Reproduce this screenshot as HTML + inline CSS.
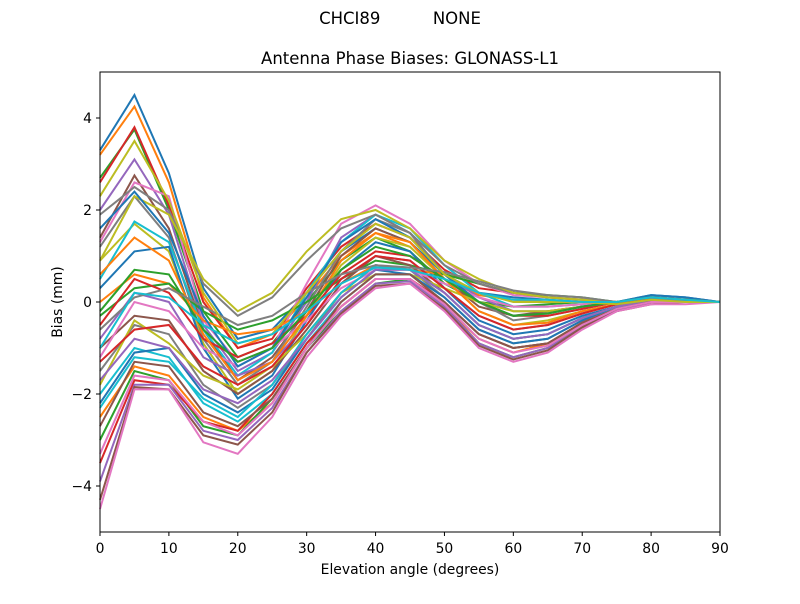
<!DOCTYPE html>
<html><head><meta charset="utf-8"><style>
body{margin:0;background:#fff;font-family:"DejaVu Sans","Liberation Sans",sans-serif}
</style></head><body>
<svg id="chart" width="800" height="600" xmlns="http://www.w3.org/2000/svg" font-family="DejaVu Sans, Liberation Sans, sans-serif">
<rect width="800" height="600" fill="#fff"/>
<text x="400" y="24" font-size="16.5" text-anchor="middle" xml:space="preserve">CHCI89          NONE</text>
<text x="410" y="64" font-size="16.5" text-anchor="middle">Antenna Phase Biases: GLONASS-L1</text>
<g id="lines"></g>
<rect x="100" y="72" width="620" height="460" fill="none" stroke="#000" stroke-width="1"/>
<g id="axes"></g>
<text x="410" y="574" font-size="13.9" text-anchor="middle">Elevation angle (degrees)</text>
<text x="62" y="302" font-size="13.9" text-anchor="middle" transform="rotate(-90 62 302)">Bias (mm)</text>
</svg>
<script>
const elevations=[0,5,10,15,20,25,30,35,40,45,50,55,60,65,70,75,80,85,90];
const xTicks=[0,10,20,30,40,50,60,70,80,90];
const yTicks=[-4,-2,0,2,4];
const s1=[3.3,4.5,2.8,0.3,-0.8,-0.6,0.2,1.1,1.6,1.3,0.6,0.2,0.1,0.05,0.0,-0.05,0.0,0.0,0];
const s2=[3.2,4.25,2.6,0.1,-1.0,-0.7,0.1,1.0,1.5,1.2,0.5,0.15,0.05,0.0,0.0,-0.05,0.0,0.0,0];
const s3=[2.7,3.75,2.0,-0.2,-1.2,-0.9,0.0,0.9,1.4,1.1,0.4,0.0,-0.1,-0.05,0.0,0.0,0.05,0.0,0];
const s4=[2.6,3.8,2.1,0.0,-1.0,-0.8,0.3,1.2,1.7,1.4,0.7,0.3,0.2,0.1,0.05,0.0,0.1,0.05,0];
const s5=[2.0,3.1,1.9,-0.5,-1.5,-1.1,0.0,1.4,1.9,1.5,0.6,0.1,-0.2,-0.2,-0.1,0.0,0.1,0.05,0];
const s6=[1.4,2.75,1.6,-0.6,-1.7,-1.2,-0.2,1.0,1.6,1.3,0.5,-0.1,-0.3,-0.2,-0.1,0.0,0.1,0.05,0];
const s7=[1.3,2.6,2.3,-0.4,-1.3,-1.0,0.4,1.7,2.1,1.7,0.9,0.4,0.15,0.1,0.05,-0.05,0.15,0.1,0];
const s8=[1.2,2.3,1.4,-0.8,-1.8,-1.3,-0.1,1.1,1.8,1.5,0.6,0.0,-0.4,-0.3,-0.15,0.0,0.1,0.05,0];
const s9=[0.9,1.7,1.1,-0.9,-2.0,-1.5,-0.3,0.8,1.4,1.2,0.5,-0.2,-0.5,-0.4,-0.2,-0.05,0.1,0.05,0];
const s10=[0.5,1.75,1.3,-0.6,-1.6,-1.1,0.2,1.3,1.9,1.6,0.8,0.2,-0.1,-0.1,-0.05,0.0,0.15,0.1,0];
const s11=[0.3,1.1,1.2,-1.0,-2.1,-1.6,-0.4,0.7,1.3,1.1,0.3,-0.4,-0.7,-0.6,-0.3,-0.1,0.1,0.05,0];
const s12=[0.0,0.6,0.4,-0.4,-0.7,-0.6,-0.2,0.4,0.8,0.7,0.6,0.4,0.2,0.1,0.05,0.0,0.1,0.05,0];
const s13=[-0.3,0.3,0.4,-0.2,-0.6,-0.4,0.0,0.5,0.9,0.8,0.6,0.4,0.2,0.15,0.1,0.0,0.1,0.05,0];
const s14=[-0.5,0.5,0.2,-0.8,-1.2,-0.9,-0.3,0.6,1.1,1.0,0.5,0.0,-0.3,-0.3,-0.15,0.0,0.1,0.05,0];
const s15=[-0.8,0.2,0.0,-1.2,-1.6,-1.3,-0.5,0.5,1.0,0.9,0.3,-0.3,-0.6,-0.5,-0.25,-0.05,0.1,0.05,0];
const s16=[-1.0,-0.3,-0.4,-1.5,-2.0,-1.5,-0.6,0.4,1.0,0.8,0.2,-0.5,-0.8,-0.7,-0.35,-0.1,0.05,0.0,0];
const s17=[-1.2,0.0,-0.2,-1.0,-1.4,-1.0,-0.4,0.3,0.7,0.7,0.4,0.1,-0.1,-0.1,-0.05,0.0,0.1,0.05,0];
const s18=[-1.5,-0.5,-0.7,-1.8,-2.3,-1.8,-0.8,0.2,0.8,0.7,0.1,-0.6,-0.9,-0.8,-0.4,-0.1,0.05,0.0,0];
const s19=[-1.8,-0.4,-0.9,-1.6,-1.9,-1.4,-0.7,0.2,0.6,0.6,0.3,0.0,-0.2,-0.2,-0.1,0.0,0.05,0.0,0];
const s20=[-2.0,-1.0,-1.2,-2.2,-2.6,-2.0,-0.9,0.0,0.6,0.6,0.0,-0.7,-1.0,-0.9,-0.5,-0.15,0.0,0.0,0];
const s21=[-2.2,-1.1,-1.0,-2.0,-2.4,-1.9,-0.8,0.1,0.7,0.6,0.1,-0.6,-0.9,-0.8,-0.4,-0.1,0.05,0.0,0];
const s22=[-2.5,-1.4,-1.6,-2.5,-2.8,-2.2,-1.0,-0.1,0.5,0.5,-0.1,-0.8,-1.1,-0.9,-0.5,-0.15,0.0,0.0,0];
const s23=[-3.0,-1.5,-1.7,-2.7,-2.9,-2.1,-1.0,-0.2,0.4,0.5,-0.1,-0.9,-1.2,-1.0,-0.55,-0.2,0.0,0.0,0];
const s24=[-3.5,-1.7,-1.8,-2.6,-2.8,-2.0,-0.9,-0.1,0.5,0.5,0.0,-0.7,-1.0,-0.9,-0.45,-0.15,0.0,0.0,0];
const s25=[-3.9,-1.8,-1.8,-2.8,-3.0,-2.3,-1.1,-0.2,0.4,0.45,-0.1,-0.9,-1.2,-1.0,-0.5,-0.2,0.0,0.0,0];
const s26=[-4.3,-1.85,-1.9,-2.9,-3.1,-2.4,-1.1,-0.25,0.35,0.4,-0.15,-0.95,-1.25,-1.05,-0.55,-0.2,-0.05,0.0,0];
const s27=[-4.5,-1.9,-1.9,-3.05,-3.3,-2.5,-1.2,-0.3,0.3,0.4,-0.2,-1.0,-1.3,-1.1,-0.6,-0.2,-0.05,-0.05,0];
const s28=[1.9,2.5,2.0,0.4,-0.3,0.1,0.9,1.6,1.9,1.5,0.8,0.4,0.2,0.1,0.05,0.0,0.1,0.05,0];
const s29=[0.9,2.3,1.9,0.5,-0.2,0.2,1.1,1.8,2.0,1.6,0.9,0.5,0.2,0.1,0.05,0.0,0.1,0.05,0];
const s30=[-2.3,-1.2,-1.3,-2.1,-2.5,-1.8,-0.7,0.2,0.8,0.7,0.2,-0.5,-0.8,-0.7,-0.35,-0.1,0.05,0.0,0];
const s31=[1.6,2.4,1.5,-0.3,-1.4,-1.0,0.1,1.3,1.8,1.4,0.6,0.0,-0.3,-0.25,-0.1,0.0,0.15,0.1,0];
const s32=[0.6,1.4,0.9,-0.7,-1.7,-1.3,-0.3,0.9,1.5,1.3,0.5,-0.2,-0.5,-0.45,-0.2,-0.05,0.1,0.05,0];
const s33=[-0.2,0.7,0.6,-0.6,-1.3,-1.0,-0.2,0.7,1.2,1.0,0.5,0.0,-0.3,-0.25,-0.1,0.0,0.1,0.05,0];
const s34=[-1.3,-0.6,-0.5,-1.4,-1.8,-1.4,-0.5,0.5,1.0,0.9,0.3,-0.3,-0.6,-0.5,-0.25,-0.05,0.05,0.0,0];
const s35=[-1.7,-0.8,-1.0,-1.9,-2.2,-1.7,-0.8,0.1,0.7,0.7,0.2,-0.5,-0.8,-0.7,-0.35,-0.1,0.05,0.0,0];
const s36=[-2.7,-1.3,-1.4,-2.4,-2.7,-2.1,-1.0,0.0,0.6,0.6,0.0,-0.7,-1.0,-0.9,-0.45,-0.15,0.0,0.0,0];
const s37=[-3.3,-1.6,-1.7,-2.6,-2.9,-2.2,-1.0,-0.1,0.5,0.5,-0.05,-0.8,-1.1,-0.95,-0.5,-0.15,0.0,0.0,0];
const s38=[-0.6,0.1,0.3,-0.1,-0.5,-0.3,0.2,0.6,0.8,0.75,0.65,0.45,0.25,0.15,0.1,0.0,0.1,0.05,0];
const s39=[2.3,3.5,2.2,0.2,-0.9,-0.7,0.2,1.1,1.7,1.4,0.6,0.2,0.0,0.0,0.0,-0.05,0.05,0.0,0];
const s40=[-1.0,0.2,0.1,-0.5,-0.9,-0.7,-0.2,0.4,0.75,0.7,0.5,0.2,0.05,0.05,0.0,0.0,0.1,0.05,0];
const series=[s1,s2,s3,s4,s5,s6,s7,s8,s9,s10,s11,s12,s13,s14,s15,s16,s17,s18,s19,s20,s21,s22,s23,s24,s25,s26,s27,s28,s29,s30,s31,s32,s33,s34,s35,s36,s37,s38,s39,s40];
const colors=['#1f77b4','#ff7f0e','#2ca02c','#d62728','#9467bd','#8c564b','#e377c2','#7f7f7f','#bcbd22','#17becf'];
const X0=100,X1=720,Y0=532,Y1=72,XMIN=0,XMAX=90,YMIN=-5,YMAX=5;
function xs(v){return X0+(v-XMIN)/(XMAX-XMIN)*(X1-X0);}
function ys(v){return Y0-(v-YMIN)/(YMAX-YMIN)*(Y0-Y1);}
const NS='http://www.w3.org/2000/svg';
const lg=document.getElementById('lines');
series.forEach((s,i)=>{
  const p=document.createElementNS(NS,'polyline');
  
  
  p.setAttribute('points',s.map((v,j)=>xs(elevations[j])+','+ys(v)).join(' '));
  p.setAttribute('fill','none');
  p.setAttribute('stroke',colors[i%10]);
  p.setAttribute('stroke-width','2');
  lg.appendChild(p);
});
const ax=document.getElementById('axes');
xTicks.forEach(t=>{
  const l=document.createElementNS(NS,'line');
  
  
  l.setAttribute('x1',xs(t));l.setAttribute('x2',xs(t));l.setAttribute('y1',532);l.setAttribute('y2',536);
  l.setAttribute('stroke','#000');ax.appendChild(l);
  const tx=document.createElementNS(NS,'text');
  
  
  tx.setAttribute('x',xs(t));tx.setAttribute('y',553);tx.setAttribute('font-size','13.9');tx.setAttribute('text-anchor','middle');
  tx.textContent=t;ax.appendChild(tx);
});
yTicks.forEach(t=>{
  const l=document.createElementNS(NS,'line');
  
  
  l.setAttribute('x1',96);l.setAttribute('x2',100);l.setAttribute('y1',ys(t));l.setAttribute('y2',ys(t));
  l.setAttribute('stroke','#000');ax.appendChild(l);
  const tx=document.createElementNS(NS,'text');
  
  
  tx.setAttribute('x',92);tx.setAttribute('y',ys(t)+5);tx.setAttribute('font-size','13.9');tx.setAttribute('text-anchor','end');
  tx.textContent=(t<0?'\u2212'+(-t):t);ax.appendChild(tx);
});
</script>
</body></html>
